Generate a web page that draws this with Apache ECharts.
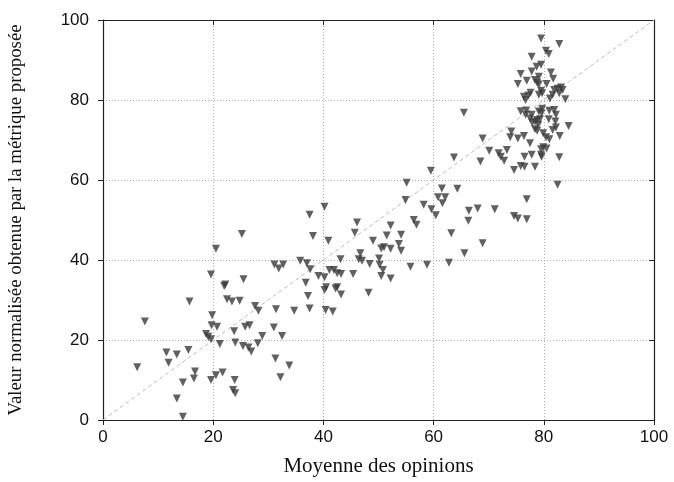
<!DOCTYPE html>
<html>
<head>
<meta charset="utf-8">
<script src="https://cdn.jsdelivr.net/npm/echarts@6/dist/echarts.min.js"></script>
<style>
  html, body { margin: 0; padding: 0; background: #fff; }
  #chartContainer { width: 674px; height: 482px; }
</style>
</head>
<body>
<div id="chartContainer"></div>
<script>
// Moyenne des opinions (x) / valeur normalisée de la métrique (y)
var opinions = [
  6.2, 7.6, 11.5, 11.9, 13.4, 13.4, 14.5, 14.5, 15.5, 15.7, 16.5, 16.7, 18.7, 19.1, 19.6, 19.6, 19.6, 19.8, 19.7, 20.7,
  20.5, 20.5, 21.2, 21.7, 22.0, 22.2, 22.5, 23.4, 23.6, 23.8, 23.9, 24.0, 24.0, 24.8, 25.2, 25.4, 25.5, 25.8, 26.4, 26.6,
  26.9, 27.6, 28.1, 28.2, 28.9, 31.0, 31.1, 31.3, 31.4, 31.9, 32.2, 32.5, 32.7, 33.8, 34.7, 35.8, 36.8, 37.0, 37.2, 37.5,
  37.5, 37.6, 38.1, 39.1, 40.2, 40.2, 40.4, 40.5, 40.2, 40.9, 41.1, 41.7, 41.9, 42.5, 42.5, 42.2, 43.1, 43.2, 43.2, 45.4,
  45.7, 46.1, 46.4, 46.7, 47.0, 48.2, 48.4, 49.0, 50.1, 50.2, 50.5, 50.5, 50.8, 51.0, 51.5, 52.2, 52.2, 52.2, 53.7, 54.1,
  54.1, 54.9, 55.1, 55.8, 56.4, 56.9, 58.2, 58.8, 59.5, 59.6, 60.4, 60.8, 61.5, 61.6, 62.1, 62.8, 63.2, 63.7, 64.3, 65.5,
  65.6, 66.3, 66.4, 68.0, 68.5, 68.9, 68.9, 70.1, 71.1, 71.8, 72.2, 72.8, 73.3, 73.9, 74.1, 74.6, 74.6, 75.3, 75.3, 75.8,
  75.8, 76.8, 76.5, 76.5, 76.9, 76.9, 76.4, 77.5,
  79.5, 82.8, 80.4, 80.9, 77.8, 78.7, 79.5, 75.8, 77.8, 79.1, 81.3, 81.7, 76.9, 78.4, 78.8, 79.1, 75.3, 80.5, 79.5, 79.7,
  79.1, 77.6, 77.2, 76.4, 76.7, 81.9, 82.5, 83.1, 83.4, 81.6, 82.8, 81.1, 83.9, 76.7, 77.8, 77.5, 79.1, 79.7, 79.6, 81.0,
  81.9, 82.2, 78.8, 78.4, 77.9, 79.3, 79.0, 80.9, 82.1, 84.5, 78.4, 78.8, 79.9, 80.4, 81.6, 82.2, 81.0, 82.9, 79.5, 79.9,
  80.5, 77.8, 79.5, 79.6, 82.8, 78.4, 82.5
];
var metrique = [
  13.2, 24.6, 16.9, 14.3, 16.4, 5.4, 9.4, 0.8, 17.5, 29.6, 10.4, 12.1, 21.5, 20.8, 20.2, 10.0, 36.4, 26.2, 23.7, 23.3,
  42.8, 11.2, 19.0, 11.9, 33.5, 33.9, 30.2, 29.6, 7.5, 22.2, 10.0, 19.4, 6.7, 29.8, 46.5, 18.5, 35.2, 23.3, 18.1, 23.7,
  17.1, 28.5, 19.2, 27.3, 21.0, 23.1, 38.9, 15.4, 27.7, 37.9, 10.7, 21.0, 38.9, 13.6, 27.3, 39.8, 34.3, 39.2, 31.0, 51.3,
  27.9, 37.7, 46.0, 36.0, 53.3, 35.7, 27.5, 33.2, 32.5, 44.8, 37.5, 27.1, 37.5, 36.7, 33.2, 32.9, 40.2, 36.5, 31.4, 36.5,
  46.8, 49.4, 40.2, 41.7, 39.8, 31.8, 39.0, 44.8, 40.4, 38.8, 42.9, 36.0, 37.5, 43.2, 46.1, 48.6, 42.8, 35.4, 44.0, 46.3,
  42.3, 55.0, 59.3, 38.3, 50.0, 48.8, 53.8, 38.8, 62.3, 52.7, 51.2, 55.7, 57.9, 54.2, 55.7, 39.3, 46.7, 65.6, 57.8, 76.8,
  41.7, 49.8, 52.3, 52.9, 64.6, 70.4, 44.2, 67.3, 52.7, 66.7, 65.8, 64.8, 67.5, 70.7, 72.1, 62.5, 51.0, 70.4, 50.4, 63.5,
  77.2, 77.4, 63.3, 65.8, 55.2, 50.2, 71.0, 69.2,
  95.4, 94.0, 92.3, 91.5, 90.8, 88.3, 88.8, 86.5, 87.1, 85.8, 86.9, 85.3, 84.8, 85.0, 84.3, 83.9, 84.0, 84.0, 82.3, 81.7,
  81.3, 81.8, 81.1, 80.8, 80.0, 82.5, 82.8, 83.1, 82.5, 81.3, 81.7, 80.4, 80.2, 76.3, 76.3, 75.4, 77.1, 77.8, 76.7, 77.3,
  77.5, 76.3, 75.0, 74.6, 74.3, 75.2, 73.8, 75.2, 74.6, 73.5, 72.7, 72.3, 71.7, 70.7, 72.5, 73.1, 70.2, 71.0, 67.7, 68.2,
  67.9, 66.3, 66.3, 65.8, 65.7, 63.3, 58.8
];
var tickValues = [0, 20, 40, 60, 80, 100];

var points = opinions.map(function (x, i) { return [x, metrique[i]]; });

var myChart = echarts.init(document.getElementById('chartContainer'), null, { renderer: 'canvas' });

var tickFont = { fontFamily: 'Liberation Sans, Arial, sans-serif', fontSize: 17, color: '#111' };
var xNameFont = { fontFamily: 'Liberation Serif, Times New Roman, serif', fontSize: 21, color: '#111' };
var yNameFont = { fontFamily: 'Liberation Serif, Times New Roman, serif', fontSize: 18.8, color: '#111' };

function valueAxis(pos, extra) {
  var ax = {
    type: 'value',
    position: pos,
    min: tickValues[0],
    max: tickValues[tickValues.length - 1],
    interval: 20,
    axisLine: { show: true, onZero: false, lineStyle: { color: '#222', width: 1.2 } },
    axisTick: { show: true, inside: true, length: 5, lineStyle: { color: '#222' } },
    axisLabel: { show: false },
    splitLine: { show: false }
  };
  return Object.assign(ax, extra || {});
}

var options = {
  animation: false,
  grid: { left: 103, right: 20, top: 20, bottom: 62, containLabel: false, outerBoundsMode: 'none' },
  xAxis: [
    valueAxis('bottom', {
      name: 'Moyenne des opinions',
      nameLocation: 'middle',
      nameGap: 36,
      nameTextStyle: xNameFont,
      axisTick: { show: true, inside: false, length: 5, lineStyle: { color: '#222' } },
      axisLabel: Object.assign({ show: true, margin: 9 }, tickFont),
      splitLine: { show: true, lineStyle: { color: '#aaa', type: [1, 2], width: 1 } }
    }),
    valueAxis('top')
  ],
  yAxis: [
    valueAxis('left', {
      name: 'Valeur normalisée obtenue par la métrique proposée',
      nameLocation: 'middle',
      nameGap: 77,
      nameTextStyle: yNameFont,
      axisTick: { show: true, inside: false, length: 5, lineStyle: { color: '#222' } },
      axisLabel: Object.assign({ show: true, margin: 14 }, tickFont),
      splitLine: { show: true, lineStyle: { color: '#aaa', type: [1, 2], width: 1 } }
    }),
    valueAxis('right')
  ],
  series: [
    {
      name: 'diagonale',
      type: 'line',
      data: [[0, 0], [100, 100]],
      symbol: 'none',
      silent: true,
      lineStyle: { color: '#bbb', width: 1, type: [4, 3] },
      z: 1
    },
    {
      name: 'mesures',
      type: 'scatter',
      data: points,
      symbol: 'triangle',
      symbolRotate: 180,
      symbolSize: 8,
      itemStyle: { color: '#3a3a3a' },
      z: 3
    }
  ]
};

myChart.setOption(options);
</script>
</body>
</html>
